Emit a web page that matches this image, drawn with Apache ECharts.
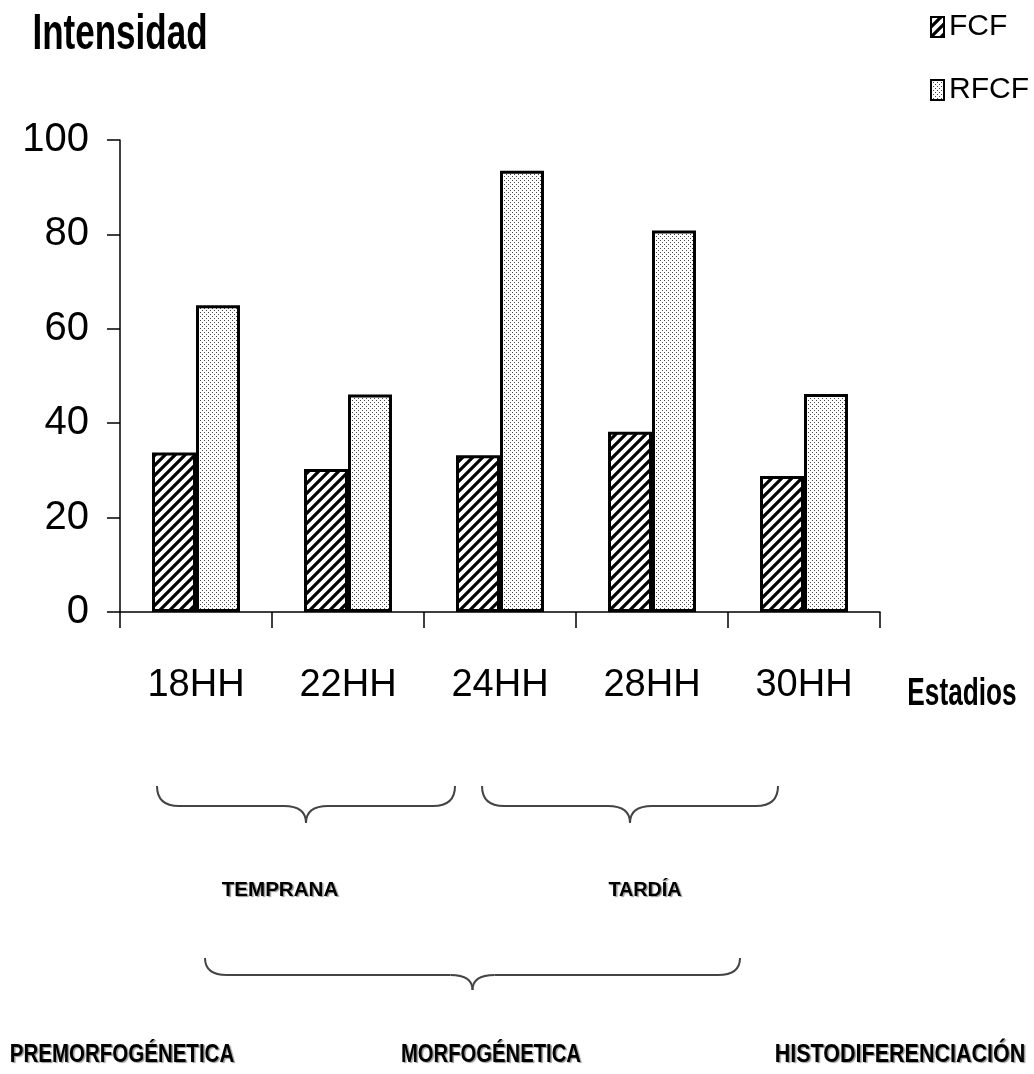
<!DOCTYPE html>
<html>
<head>
<meta charset="utf-8">
<title>Intensidad por estadio</title>
<script src="https://cdn.jsdelivr.net/npm/echarts@6/dist/echarts.min.js"></script>
<style>
  html, body { margin: 0; padding: 0; background: #fff; overflow: hidden; }
  #chart { width: 1034px; height: 1074px; }
</style>
</head>
<body>
<div id="chart"></div>
<script>
// Stages (HH) and measured intensity for both markers
const categories = ['18HH', '22HH', '24HH', '28HH', '30HH'];
const fcfValues = [33.8, 30.3, 33.2, 38.2, 28.8];
const rfcfValues = [65.0, 46.1, 93.5, 80.8, 46.2];
const seriesNames = ['FCF', 'RFCF'];
const yTicks = { min: 0, max: 100, interval: 20 };

const SANS = "'Liberation Sans', Arial, sans-serif";

// Diagonal hatch fill
function hatchPattern() {
  const s = 10;
  const c = document.createElement('canvas');
  c.width = s; c.height = s;
  const g = c.getContext('2d');
  g.fillStyle = '#fff';
  g.fillRect(0, 0, s, s);
  g.strokeStyle = '#000';
  g.lineWidth = 3.2;
  g.beginPath();
  g.moveTo(0, s); g.lineTo(s, 0);
  g.moveTo(-3, 3); g.lineTo(3, -3);
  g.moveTo(s - 3, s + 3); g.lineTo(s + 3, s - 3);
  g.stroke();
  return c;
}

// Fine dotted fill
function dotPattern() {
  const c = document.createElement('canvas');
  c.width = 4; c.height = 4;
  const g = c.getContext('2d');
  g.fillStyle = '#fff';
  g.fillRect(0, 0, 4, 4);
  g.fillStyle = '#4a4a4a';
  g.fillRect(0, 0, 1, 1);
  g.fillRect(2, 2, 1, 1);
  return c;
}

// Curly under-brace built from lines and quadratic curves
function braceEl(x1, x2, yTop, yLine, yTip) {
  const r = 22;
  const xm = (x1 + x2) / 2;
  const st = { fill: null, stroke: '#444', lineWidth: 2 };
  const curve = (ax, ay, cx, cy, bx, by) => ({
    type: 'bezierCurve',
    shape: { x1: ax, y1: ay, cpx1: cx, cpy1: cy, x2: bx, y2: by },
    style: st
  });
  const seg = (ax, ay, bx, by) => ({
    type: 'line',
    shape: { x1: ax, y1: ay, x2: bx, y2: by },
    style: st
  });
  return {
    type: 'group',
    children: [
      curve(x1, yTop, x1, yLine, x1 + r, yLine),
      seg(x1 + r, yLine, xm - r, yLine),
      curve(xm - r, yLine, xm, yLine, xm, yTip),
      curve(xm, yTip, xm, yLine, xm + r, yLine),
      seg(xm + r, yLine, x2 - r, yLine),
      curve(x2 - r, yLine, x2, yLine, x2, yTop)
    ]
  };
}

// Free text; scaleX narrows the glyphs to a condensed look
function textEl(text, x, y, font, scaleX, shadow) {
  const style = {
    text: text,
    font: font,
    fill: '#000',
    align: 'center',
    verticalAlign: 'middle'
  };
  if (shadow) {
    style.textShadowColor = 'rgba(0,0,0,0.4)';
    style.textShadowOffsetX = 1.5;
    style.textShadowOffsetY = 1.5;
    style.textShadowBlur = 1;
  }
  return { type: 'text', x: x, y: y, scaleX: scaleX, style: style };
}

const chart = echarts.init(document.getElementById('chart'), null, { renderer: 'canvas' });

const hatch = { image: hatchPattern(), repeat: 'repeat' };
const dots = { image: dotPattern(), repeat: 'repeat' };

const option = {
  backgroundColor: '#fff',
  animation: false,
  grid: {
    left: 120, right: 154, top: 140, bottom: 462,
    containLabel: false,
    outerBoundsMode: 'none'
  },
  legend: {
    data: seriesNames,
    orient: 'vertical',
    left: 930,
    top: 12,
    padding: 0,
    icon: 'rect',
    itemWidth: 13,
    itemHeight: 20,
    itemGap: 33,
    textStyle: { fontFamily: SANS, fontSize: 30, lineHeight: 30, color: '#000' },
    itemStyle: { borderColor: '#000', borderWidth: 2 }
  },
  xAxis: {
    type: 'category',
    data: categories,
    axisLine: { lineStyle: { color: '#000', width: 1.5 } },
    axisTick: { show: true, length: 16, lineStyle: { color: '#000', width: 1.5 } },
    axisLabel: { fontFamily: SANS, fontSize: 38, color: '#000', margin: 55 },
    splitLine: { show: false }
  },
  yAxis: {
    type: 'value',
    min: yTicks.min,
    max: yTicks.max,
    interval: yTicks.interval,
    axisLine: { show: true, lineStyle: { color: '#000', width: 1.5 } },
    axisTick: { show: true, length: 13, lineStyle: { color: '#000', width: 1.5 } },
    axisLabel: { fontFamily: SANS, fontSize: 40, color: '#000', margin: 31 },
    splitLine: { show: false }
  },
  series: [
    {
      name: seriesNames[0],
      type: 'bar',
      data: fcfValues,
      barWidth: 44,
      barGap: '0%',
      itemStyle: { color: hatch, borderColor: '#000', borderWidth: 3 }
    },
    {
      name: seriesNames[1],
      type: 'bar',
      data: rfcfValues,
      barWidth: 44,
      barGap: '0%',
      itemStyle: { color: dots, borderColor: '#000', borderWidth: 3 }
    }
  ],
  graphic: [
    textEl('Intensidad', 120, 35, 'bold 50px ' + SANS, 0.70, false),
    textEl('Estadios', 962, 695, 'bold 38px ' + SANS, 0.69, false),
    braceEl(157, 455, 786, 806, 823),
    braceEl(482, 778, 786, 806, 823),
    braceEl(205, 740, 958, 975, 990),
    textEl('TEMPRANA', 280, 890, 'bold 21px ' + SANS, 0.98, true),
    textEl('TARDÍA', 645, 890, 'bold 21px ' + SANS, 0.94, true),
    textEl('PREMORFOGÉNETICA', 122, 1055, 'bold 25px ' + SANS, 0.82, true),
    textEl('MORFOGÉNETICA', 491, 1055, 'bold 25px ' + SANS, 0.81, true),
    textEl('HISTODIFERENCIACIÓN', 900, 1055, 'bold 25px ' + SANS, 0.86, true)
  ]
};

chart.setOption(option);
</script>
</body>
</html>
